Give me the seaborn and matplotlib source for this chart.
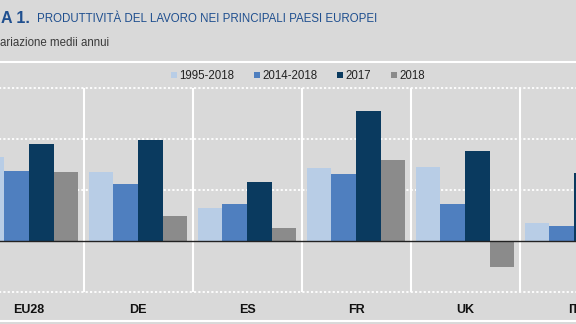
import matplotlib
matplotlib.use("Agg")
import matplotlib.pyplot as plt
from matplotlib import font_manager
from matplotlib.lines import Line2D
import seaborn as sns
import pandas as pd

# Labour productivity growth, % average annual change
countries = ["EU28", "DE", "ES", "FR", "UK", "IT"]
periods = ["1995-2018", "2014-2018", "2017", "2018"]
p1995_2018 = [0.82, 0.68, 0.32, 0.72, 0.73, 0.18]
p2014_2018 = [0.69, 0.56, 0.36, 0.66, 0.36, 0.15]
p2017 = [0.95, 0.99, 0.58, 1.27, 0.88, 0.67]
p2018 = [0.68, 0.25, 0.13, 0.79, -0.25, -0.10]

colors = ["#b8cde6", "#4f7fbf", "#0a3a5f", "#8b8b8b"]
bg = "#d9d9d9"


def pick_font(names):
    available = {f.name for f in font_manager.fontManager.ttflist}
    for n in names:
        if n in available:
            return n
    return "DejaVu Sans"


sns.set_theme(style="white")
narrow = pick_font(["Liberation Sans Narrow", "Liberation Sans", "Arial"])
plt.rcParams["font.family"] = [narrow, "DejaVu Sans"]

df = pd.DataFrame({
    "paese": countries * 4,
    "periodo": sum([[p] * len(countries) for p in periods], []),
    "valore": p1995_2018 + p2014_2018 + p2017 + p2018,
})

fig = plt.figure(figsize=(5.76, 3.24), dpi=100, facecolor=bg)
ax = fig.add_axes([-25.5 / 576, 32 / 324, 654 / 576, 204 / 324], facecolor=bg)

sns.barplot(data=df, x="paese", y="valore", hue="periodo", hue_order=periods,
            palette=colors, width=0.9, linewidth=0, saturation=1,
            errorbar=None, ax=ax, legend=False)

ax.set_xlim(-0.5, len(countries) - 0.5)
ax.set_ylim(-0.5, 1.5)
for s in ax.spines.values():
    s.set_visible(False)
ax.set_xlabel("")
ax.set_ylabel("")
ax.set_yticks([])
ax.tick_params(axis="x", length=0, pad=8.5)
for lab in ax.get_xticklabels():
    lab.set_fontweight("bold")
    lab.set_fontsize(9)
    lab.set_color("#111111")

# dotted white grid and solid white group separators
for yv in [-0.5, 0.5, 1.0, 1.5]:
    ax.axhline(yv, color="white", lw=1.3, ls=(0, (1.2, 1.2)), zorder=0.5, clip_on=False)
for xv in range(len(countries) - 1):
    ax.plot([xv + 0.5, xv + 0.5], [-0.5, 1.5], color="white", lw=1.5, zorder=0.5)
ax.axhline(0, color="#222222", lw=1.0, zorder=3)

# frame lines of the header and footer bands
fig.add_artist(Line2D([0, 1], [1 - 62 / 324] * 2, color="white", lw=1.5,
                      transform=fig.transFigure))
fig.add_artist(Line2D([0, 1], [1 - 321 / 324] * 2, color="white", lw=1.5,
                      transform=fig.transFigure))

# legend
handles = [Line2D([], [], marker="s", ls="none", markersize=4, color=c,
                  markeredgewidth=0) for c in colors]
fig.legend(handles, periods, loc="center", bbox_to_anchor=(298 / 576, 1 - 76 / 324),
           ncol=4, frameon=False, fontsize=8.3, handlelength=0.5,
           handletextpad=0.25, columnspacing=1.7, labelcolor="#222222")

# title block
fig.text(1 / 576, 1 - 18.5 / 324, "A 1.", fontsize=11.5, fontweight="bold",
         color="#1f4f8f", va="center", ha="left")
fig.text(37 / 576, 1 - 19.5 / 324, "PRODUTTIVITÀ DEL LAVORO NEI PRINCIPALI PAESI EUROPEI",
         fontsize=8.3, color="#1f4f8f", va="center", ha="left")
fig.text(0, 1 - 42.5 / 324, "ariazione medii annui", fontsize=8.3,
         color="#3a3a3a", va="center", ha="left")

fig.savefig("out.png", dpi=100, facecolor=bg)
